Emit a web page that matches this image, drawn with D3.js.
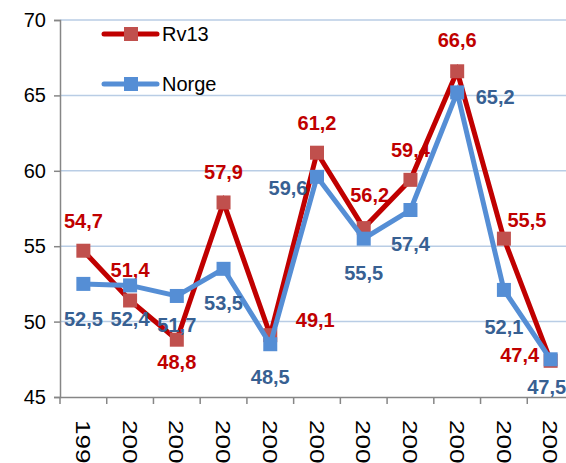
<!DOCTYPE html>
<html>
<head>
<meta charset="utf-8">
<script src="https://cdn.jsdelivr.net/npm/d3@7"></script>
<style>
  body { margin: 0; background: #fff; overflow: hidden; }
  text { font-family: "Liberation Sans", Arial, sans-serif; }
</style>
</head>
<body>
<div id="chart"></div>
<script>
// données
let years = ["1999", "2000", "2001", "2002", "2003", "2004", "2005", "2006", "2007", "2008", "2009"];
let rv13 = [54.7, 51.4, 48.8, 57.9, 49.1, 61.2, 56.2, 59.4, 66.6, 55.5, 47.4];
let norge = [52.5, 52.4, 51.7, 53.5, 48.5, 59.6, 55.5, 57.4, 65.2, 52.1, 47.5];
let yTicks = [45, 50, 55, 60, 65, 70];

// décalage des étiquettes (placement à la main comme dans Excel)
let rvLabelPos = [[0, -30], [0, -30], [0, 22], [0, -30], [45, -15], [0, -30], [6, -33], [0, -30], [0, -31], [23, -19], [-31, -6]];
let noLabelPos = [[0, 35], [0, 34], [0, 29], [0, 34], [0, 33], [-29, 11], [0, 34], [0, 34], [38, 5], [0, 37], [-4, 28]];

let width = 566;
let height = 463;

let svg = d3
  .select("#chart")
  .append("svg")
  .attr("width", width)
  .attr("height", height);

let x = d3.scaleBand().domain(years).range([60, 574]).padding(0);
let y = d3.scaleLinear().domain([45, 70]).range([397, 20]);

// grille
svg
  .selectAll(".grid")
  .data(yTicks.filter((d) => d > 45))
  .enter()
  .append("line")
  .attr("x1", 60)
  .attr("x2", 574)
  .attr("y1", (d) => y(d))
  .attr("y2", (d) => y(d))
  .style("stroke", "#B9CDE5")
  .style("stroke-width", 1.5);

// axe y
let yAxis = svg
  .append("g")
  .attr("transform", "translate(60,0)")
  .call(d3.axisLeft(y).tickValues(yTicks).tickSize(6).tickPadding(8));
yAxis.select(".domain").style("stroke", "#868686").style("stroke-width", 1.5);
yAxis.selectAll(".tick line").style("stroke", "#868686").style("stroke-width", 1.5);
yAxis.selectAll("text").style("font-size", "20px").style("fill", "#000");

// axe x
let xAxis = svg
  .append("g")
  .attr("transform", "translate(0,397)")
  .call(d3.axisBottom(x).tickSize(0).tickPadding(0));
xAxis.select(".domain").style("stroke", "#868686").style("stroke-width", 1.5);
xAxis.selectAll(".tick text").remove();

// petites marques entre les catégories
svg
  .selectAll(".xtick")
  .data(years)
  .enter()
  .append("line")
  .attr("x1", (d) => x(d))
  .attr("x2", (d) => x(d))
  .attr("y1", 397)
  .attr("y2", 404)
  .style("stroke", "#868686")
  .style("stroke-width", 1.5);

// étiquettes des années, tournées de 90° (un peu étirées comme dans l'original)
svg
  .selectAll(".year")
  .data(years)
  .enter()
  .append("text")
  .attr("transform", (d) => "translate(" + (x(d) + x.bandwidth() / 2) + ",420) rotate(90) scale(1.24,1)")
  .attr("dy", "0.35em")
  .text((d) => d)
  .style("font-size", "21px")
  .style("fill", "#000");

let line = d3
  .line()
  .x((d, i) => x(years[i]) + x.bandwidth() / 2)
  .y((d) => y(d));

function drawSeries(values, lineColor, markerColor, labelColor, labelPos) {
  svg
    .append("path")
    .datum(values)
    .attr("d", line)
    .style("fill", "none")
    .style("stroke", lineColor)
    .style("stroke-width", 5)
    .style("stroke-linejoin", "miter");

  svg
    .append("g")
    .selectAll("rect")
    .data(values)
    .enter()
    .append("rect")
    .attr("x", (d, i) => x(years[i]) + x.bandwidth() / 2 - 7)
    .attr("y", (d) => y(d) - 7)
    .attr("width", 14)
    .attr("height", 14)
    .style("fill", markerColor);

  svg
    .append("g")
    .selectAll("text")
    .data(values)
    .enter()
    .append("text")
    .attr("x", (d, i) => x(years[i]) + x.bandwidth() / 2 + labelPos[i][0])
    .attr("y", (d, i) => y(d) + labelPos[i][1])
    .text((d) => d.toFixed(1).replace(".", ","))
    .style("font-size", "20px")
    .style("font-weight", "bold")
    .style("fill", labelColor)
    .style("text-anchor", "middle")
    .style("dominant-baseline", "central");
}

drawSeries(rv13, "#C00000", "#C0504D", "#C00000", rvLabelPos);
drawSeries(norge, "#558ED5", "#558ED5", "#376092", noLabelPos);

// légende
let legend = [
  { name: "Rv13", line: "#C00000", marker: "#C0504D", y: 34 },
  { name: "Norge", line: "#558ED5", marker: "#558ED5", y: 84 },
];
legend.forEach((l) => {
  svg
    .append("line")
    .attr("x1", 104)
    .attr("x2", 157)
    .attr("y1", l.y)
    .attr("y2", l.y)
    .style("stroke", l.line)
    .style("stroke-width", 5)
    .style("stroke-linecap", "round");
  svg
    .append("rect")
    .attr("x", 124)
    .attr("y", l.y - 7)
    .attr("width", 14)
    .attr("height", 14)
    .style("fill", l.marker);
  svg
    .append("text")
    .attr("x", 162)
    .attr("y", l.y)
    .attr("dy", "0.35em")
    .text(l.name)
    .style("font-size", "20px")
    .style("fill", "#000");
});
</script>
</body>
</html>
